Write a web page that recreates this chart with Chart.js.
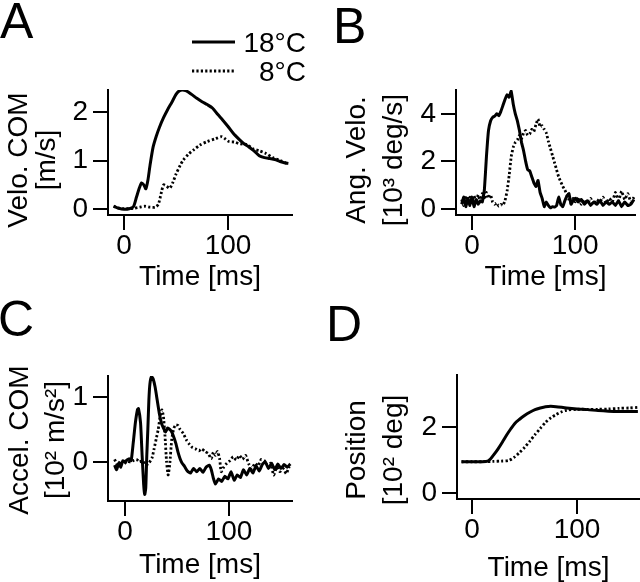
<!DOCTYPE html>
<html lang="en">
<head>
    <meta charset="UTF-8">
    <title>Velocity, angular velocity, acceleration and position at 18°C and 8°C</title>
    <script src="https://cdn.jsdelivr.net/npm/chart.js@4"></script>
    <style>
        body {
            margin: 0;
            background: #fff;
        }
        #wrap {
            position: relative;
            width: 640px;
            height: 582px;
        }
        canvas {
            position: absolute;
        }
    </style>
</head>
<body>
<div id="wrap">
    <canvas id="chartA" width="320" height="300" style="left:0;top:0"></canvas>
    <canvas id="chartB" width="320" height="300" style="left:320px;top:0"></canvas>
    <canvas id="chartC" width="320" height="282" style="left:0;top:300px"></canvas>
    <canvas id="chartD" width="320" height="282" style="left:320px;top:300px"></canvas>
</div>

<script>
    // series names
    const seriesLabels = ['18°C', '8°C'];
    const xTitle = 'Time [ms]';
    const xTicks = [0, 100];

    // A: velocity of centre of mass [m/s]
    const yTicksA = [0, 1, 2];
    const tA18 = [-10, -5, 0, 5, 9, 12, 15, 17, 19, 21, 23, 25, 28, 31, 34, 38, 42, 46, 50, 53, 56, 60, 65, 70, 75, 80, 85, 90, 95, 100, 105, 110, 115, 120, 125, 130, 135, 140, 145, 150, 155, 158];
    const vA18 = [0.06, 0.02, 0.0, 0.01, 0.05, 0.25, 0.45, 0.54, 0.5, 0.42, 0.6, 0.9, 1.28, 1.5, 1.68, 1.88, 2.05, 2.2, 2.36, 2.43, 2.45, 2.43, 2.36, 2.28, 2.21, 2.15, 2.08, 1.95, 1.83, 1.7, 1.56, 1.45, 1.35, 1.28, 1.2, 1.1, 1.06, 1.04, 1.02, 0.98, 0.95, 0.94];
    const tA8 = [-10, -5, 0, 5, 10, 15, 20, 25, 30, 33, 36, 38, 41, 44, 47, 50, 54, 57, 62, 67, 73, 80, 88, 94, 97, 101, 106, 112, 118, 124, 130, 136, 143, 150, 158];
    const vA8 = [0.06, 0.02, 0.01, 0.01, 0.02, 0.04, 0.06, 0.04, 0.04, 0.1, 0.35, 0.5, 0.47, 0.43, 0.55, 0.72, 0.9, 1.01, 1.13, 1.22, 1.32, 1.39, 1.45, 1.49, 1.45, 1.39, 1.38, 1.34, 1.33, 1.24, 1.2, 1.15, 1.06, 1.0, 0.93];

    // B: angular velocity [10^3 deg/s]
    const yTicksB = [0, 2, 4];
    const tB = [-10, -8, -6, -4, -2, 0, 2, 4, 6, 8, 10, 12, 14, 16, 18, 20, 22, 24, 26, 28, 30, 32, 34, 36, 38, 40, 42, 44, 46, 48, 50, 52, 54, 56, 58, 60, 62, 64, 66, 68, 70, 72, 74, 76, 78, 80, 82, 84, 86, 88, 90, 92, 94, 96, 98, 100, 103, 106, 109, 112, 115, 118, 121, 124, 127, 130, 133, 136, 139, 142, 145, 148, 151, 154, 157];
    const vB18 = [0.2, 0.5, 0.1, 0.45, 0.15, 0.5, 0.1, 0.4, 0.2, 0.35, 0.3,
        0.8, 2.2, 3.3, 3.7, 3.85, 3.9, 4.0, 3.92, 4.1, 4.35, 4.6, 4.8, 4.7, 4.95, 4.4,
        4.0, 3.7, 3.3, 2.8, 2.45, 2.0, 1.65, 1.6, 1.35, 1.1, 0.95, 1.2, 0.7, 0.45, 0.1,
        0.3, 0.15, 0.05, 0.1, 0.08, 0.15, 0.5, 0.2, 0.1, 0.35, 0.55, 0.65, 0.2, 0.35, 0.45,
        0.3, 0.4, 0.2, 0.35, 0.15, 0.3, 0.2, 0.35, 0.15, 0.3, 0.2, 0.3, 0.15, 0.35, 0.1, 0.3, 0.15, 0.2, 0.4];
    const vB8 = [0.4, 0.15, 0.55, 0.2, 0.5, 0.3, 0.55, 0.25, 0.6, 0.3, 0.65,
        0.4, 0.7, 0.45, 0.6, 0.3, 0.2, 0.25, 0.12, 0.2, 0.15, 0.35, 0.75, 1.4, 2.2, 2.6,
        2.8, 2.9, 3.1, 2.95, 3.2, 3.3, 3.1, 3.15, 3.35, 3.25, 3.55, 3.78, 3.45, 3.5, 3.35,
        3.2, 2.85, 2.55, 2.25, 1.95, 1.65, 1.35, 1.15, 0.95, 0.8, 0.6, 0.4, 0.25, 0.45, 0.3,
        0.5, 0.2, 0.4, 0.25, 0.45, 0.2, 0.4, 0.3, 0.5, 0.25, 0.45, 0.3, 0.7, 0.35, 0.75, 0.4, 0.65, 0.3, 0.5];

    // C: acceleration of centre of mass [10^2 m/s^2]
    const yTicksC = [0, 1];
    const tC18 = [-10, -8, -6, -4, -2, 0, 2, 4, 6, 8, 10, 12,
        13, 15, 16.5, 18, 19, 20, 21, 22, 23, 24, 25.5, 27,
        29, 31, 33, 35, 37, 39, 41, 43, 45, 47, 49, 51, 53, 55, 57,
        60, 63, 66, 69, 72, 75, 78, 81, 83, 85, 87,
        90, 93, 96, 99, 102, 105, 108, 111, 114, 117, 120, 123, 126, 129, 132, 135, 138, 141, 144, 147, 150, 153, 156, 159];
    const vC18 = [-0.05, -0.12, -0.02, -0.08, 0.02, 0.0, 0.03, 0.05, 0.02, 0.3, 0.6, 0.8,
        0.82, 0.6, 0.1, -0.35, -0.5, -0.4, 0.1, 0.5, 0.95, 1.2, 1.31, 1.28,
        1.15, 0.95, 0.75, 0.6, 0.52, 0.46, 0.52, 0.5, 0.46, 0.38, 0.28, 0.15, 0.05, -0.02, -0.06,
        -0.14, -0.17, -0.1, -0.15, -0.1, -0.16, -0.08, -0.05, -0.12, -0.25, -0.34,
        -0.26, -0.3, -0.22, -0.26, -0.15, -0.28, -0.2, -0.24, -0.12, -0.2, -0.1, -0.17, -0.06, -0.14, -0.04, 0.0, -0.1, -0.02, -0.12, -0.03, -0.1, -0.04, -0.08, -0.03];
    const tC8 = [-10, -7, -4, -1, 2, 5, 8, 11, 14, 17, 20, 23, 26,
        28, 30, 32, 34, 35.5, 37, 38.5, 40, 41.5, 43, 45, 47, 49, 51, 53,
        56, 59, 62, 65, 68, 71, 74, 77, 80, 83, 85, 87, 89, 91, 92.5,
        95, 98, 101, 104, 107, 110, 113, 116, 119, 122, 125, 128, 131, 134, 137, 140, 143, 146, 149, 152, 155, 158];
    const vC8 = [0.04, -0.05, 0.02, -0.03, 0.01, 0.0, 0.02, 0.04, 0.0, 0.02, -0.05, -0.02, 0.06,
        0.2, 0.35, 0.5, 0.72, 0.8, 0.7, 0.4, 0.0, -0.2, -0.05, 0.35, 0.52, 0.57, 0.56, 0.5,
        0.44, 0.34, 0.27, 0.22, 0.2, 0.17, 0.2, 0.16, 0.13, 0.05, 0.15, 0.1, 0.16, 0.05, -0.15,
        -0.08, -0.02, 0.02, 0.08, 0.03, 0.1, 0.04, 0.1, -0.03, -0.1, -0.02, -0.06, 0.04, 0.02, -0.05, -0.02, -0.2, -0.08, -0.15, -0.1, -0.18, -0.07];

    // D: position [10^2 deg]
    const yTicksD = [0, 2];
    const tD18 = [-10, 0, 10, 15, 18, 21, 25, 29, 33, 37, 41, 45, 50, 55, 60, 65, 70, 75, 80, 90, 100, 110, 120, 130, 140, 150, 158];
    const vD18 = [0.95, 0.95, 0.95, 0.97, 1.05, 1.17, 1.35, 1.55, 1.76, 1.95, 2.12, 2.23, 2.35, 2.45, 2.53, 2.58, 2.62, 2.63, 2.62, 2.58, 2.55, 2.53, 2.5, 2.48, 2.47, 2.47, 2.47];
    const tD8 = [-10, 0, 10, 20, 28, 35, 40, 45, 50, 55, 60, 65, 70, 75, 80, 85, 90, 100, 110, 120, 130, 140, 150, 158];
    const vD8 = [0.95, 0.95, 0.95, 0.96, 0.97, 0.99, 1.08, 1.22, 1.38, 1.57, 1.77, 1.96, 2.14, 2.28, 2.38, 2.46, 2.51, 2.54, 2.54, 2.54, 2.55, 2.57, 2.58, 2.6];

    const FONT = '"Liberation Sans", Arial, Helvetica, sans-serif';
    Chart.defaults.font.family = FONT;
    Chart.defaults.font.size = 28;
    Chart.defaults.color = '#000';

    function pts(t, v) {
        return t.map((x, i) => ({ x: x, y: v[i] }));
    }

    // panel letter, rotated y title and legend
    const decor = {
        id: 'decor',
        afterDraw(chart, args, o) {
            const ctx = chart.ctx;
            ctx.save();
            ctx.fillStyle = '#000';
            ctx.textBaseline = 'alphabetic';

            ctx.font = '50px ' + FONT;
            ctx.textAlign = 'left';
            ctx.fillText(o.letter, o.letterPos[0], o.letterPos[1]);

            ctx.font = '28px ' + FONT;
            ctx.textAlign = 'center';
            o.yTitle.forEach((txt, i) => {
                ctx.save();
                ctx.translate(o.yTitleX[i], o.yTitleY);
                ctx.rotate(-Math.PI / 2);
                ctx.fillText(txt, 0, 0);
                ctx.restore();
            });

            if (o.legend) {
                chart.data.datasets.forEach((ds, i) => {
                    const y = o.legend.y[i];
                    ctx.beginPath();
                    ctx.setLineDash(ds.borderDash || []);
                    ctx.lineWidth = ds.borderWidth;
                    ctx.strokeStyle = ds.borderColor;
                    ctx.moveTo(o.legend.x0, y);
                    ctx.lineTo(o.legend.x1, y);
                    ctx.stroke();
                    ctx.setLineDash([]);
                    ctx.textAlign = 'right';
                    ctx.fillText(ds.label, o.legend.textRight, y + 10);
                });
            }
            ctx.restore();
        }
    };

    function makePanel(id, p) {
        new Chart(document.getElementById(id), {
            type: 'line',
            data: {
                datasets: [
                    {
                        label: seriesLabels[0],
                        data: pts(p.t18, p.v18),
                        borderColor: '#000',
                        borderWidth: 3,
                        pointRadius: 0,
                        tension: p.tension
                    },
                    {
                        label: seriesLabels[1],
                        data: pts(p.t8, p.v8),
                        borderColor: '#000',
                        borderWidth: 2.8,
                        borderDash: [2.2, 2.2],
                        pointRadius: 0,
                        tension: p.tension
                    }
                ]
            },
            options: {
                responsive: false,
                animation: false,
                devicePixelRatio: 1,
                layout: { padding: { top: p.top, right: p.right, left: 0, bottom: 0 } },
                plugins: {
                    legend: { display: false },
                    tooltip: { enabled: false },
                    decor: p.decor
                },
                scales: {
                    x: {
                        type: 'linear',
                        min: p.xMin,
                        max: p.xMax,
                        afterBuildTicks: s => { s.ticks = xTicks.map(v => ({ value: v })); },
                        afterFit: s => { s.height = p.xH; },
                        border: { display: true, color: '#000', width: 2 },
                        grid: { display: true, drawOnChartArea: false, tickLength: 15, color: '#000', lineWidth: 2 },
                        ticks: { autoSkip: false, maxRotation: 0, padding: 2, font: { size: 28, lineHeight: 1 } },
                        title: { display: true, text: xTitle, font: { size: 28, lineHeight: 1 }, padding: { top: 0, bottom: p.xTitlePad } }
                    },
                    y: {
                        min: p.yMin,
                        max: p.yMax,
                        afterBuildTicks: s => { s.ticks = p.yTicks.map(v => ({ value: v })); },
                        afterFit: s => { s.width = p.yW; },
                        border: { display: true, color: '#000', width: 2 },
                        grid: { display: true, drawOnChartArea: false, tickLength: 15, color: '#000', lineWidth: 2 },
                        ticks: { autoSkip: false, padding: 5, font: { size: 28, lineHeight: 1 } }
                    }
                }
            },
            plugins: [decor]
        });
    }

    makePanel('chartA', {
        t18: tA18, v18: vA18, t8: tA8, v8: vA8, tension: 0.25,
        xMin: -15.4, xMax: 161.5, yMin: -0.12, yMax: 2.45, yTicks: yTicksA,
        top: 90, right: 28, yW: 108, xH: 85, xTitlePad: 9,
        decor: {
            letter: 'A', letterPos: [0, 38],
            yTitle: ['Velo. COM', '[m/s]'], yTitleX: [27, 55], yTitleY: 160,
            legend: { x0: 192, x1: 235, textRight: 306, y: [42, 71] }
        }
    });

    makePanel('chartB', {
        t18: tB, v18: vB18, t8: tB, v8: vB8, tension: 0.1,
        xMin: -15.5, xMax: 158, yMin: -0.25, yMax: 5.0, yTicks: yTicksB,
        top: 90, right: 5, yW: 136, xH: 85, xTitlePad: 9,
        decor: {
            letter: 'B', letterPos: [13, 43],
            yTitle: ['Ang. Velo.', '[10³ deg/s]'], yTitleX: [45, 82], yTitleY: 160
        }
    });

    makePanel('chartC', {
        t18: tC18, v18: vC18, t8: tC8, v8: vC8, tension: 0.15,
        xMin: -16.3, xMax: 160.6, yMin: -0.6, yMax: 1.32, yTicks: yTicksC,
        top: 76, right: 28, yW: 108, xH: 81, xTitlePad: 3,
        decor: {
            letter: 'C', letterPos: [-2, 36],
            yTitle: ['Accel. COM', '[10² m/s²]'], yTitleX: [28, 64], yTitleY: 140
        }
    });

    makePanel('chartD', {
        t18: tD18, v18: vD18, t8: tD8, v8: vD8, tension: 0.25,
        xMin: -14.3, xMax: 160, yMin: -0.18, yMax: 3.58, yTicks: yTicksD,
        top: 75, right: 0, yW: 137, xH: 83, xTitlePad: 0,
        decor: {
            letter: 'D', letterPos: [6, 41],
            yTitle: ['Position', '[10² deg]'], yTitleX: [45, 82], yTitleY: 150
        }
    });
</script>
</body>
</html>
